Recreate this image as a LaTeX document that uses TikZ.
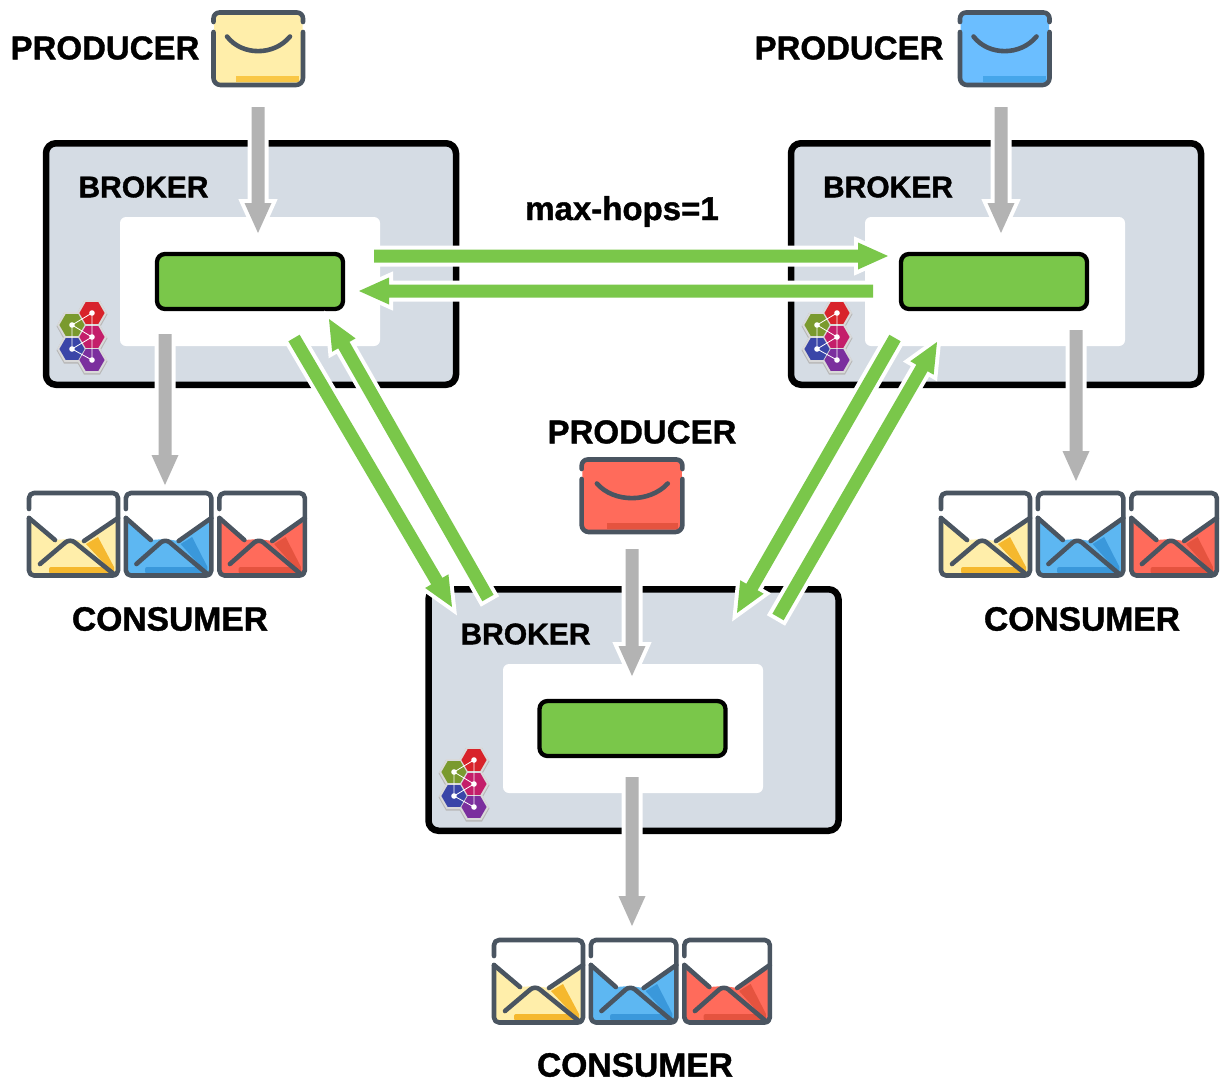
\documentclass[tikz,border=0pt]{standalone}
\usepackage{fontspec}
\setmainfont{Liberation Sans}[BoldFeatures={FakeBold=1.2}]
\usetikzlibrary{calc}
\definecolor{brokerfill}{HTML}{D5DCE4}
\definecolor{gbox}{HTML}{7AC74A}
\definecolor{garrow}{HTML}{B3B3B3}
\definecolor{envline}{HTML}{4A5561}
\definecolor{yel}{HTML}{FFEEAA}\definecolor{yeld}{HTML}{F5B82E}
\definecolor{yelc}{HTML}{F9C746}
\definecolor{blu}{HTML}{5DB7F2}\definecolor{blud}{HTML}{3A98DB}
\definecolor{bluc}{HTML}{6BBEFF}\definecolor{blucd}{HTML}{46A6EA}
\definecolor{rd}{HTML}{FF6B5B}\definecolor{rdd}{HTML}{E5533F}
\definecolor{hxr}{HTML}{D8232A}\definecolor{hxg}{HTML}{7A9A2E}
\definecolor{hxp}{HTML}{C41E6A}\definecolor{hxb}{HTML}{3A45A8}
\definecolor{hxv}{HTML}{7B2F9E}
\tikzset{
  x=1pt,y=-1pt,
  brokerbox/.style={draw=black,line width=6.5pt,fill=brokerfill,rounded corners=10pt,minimum width=410pt,minimum height=241.5pt,inner sep=0pt},
  innerbox/.style={fill=white,rounded corners=6pt,minimum width=260pt,minimum height=129pt,inner sep=0pt},
  queuebox/.style={draw=black,line width=4.3pt,fill=gbox,rounded corners=8pt,minimum width=186pt,minimum height=55pt,inner sep=0pt},
  lblA/.style={font=\fontsize{33}{36}\selectfont\bfseries,inner sep=0pt},
  lblC/.style={font=\fontsize{33.6}{36}\selectfont\bfseries,inner sep=0pt},
  lblB/.style={font=\fontsize{30}{34}\selectfont\bfseries,inner sep=0pt},
  envstroke/.style={draw=envline,line width=4.6pt,line cap=round,line join=round},
}
% block arrow with white halo
\newcommand{\blockarrow}[3]{%
  \coordinate (hb) at ($(#2)!30pt!(#1)$);
  \path[fill=#3,preaction={draw=white,line width=8pt,miter limit=20}]
    ($(#1)!6.5pt!90:(#2)$) -- ($(hb)!6.5pt!-90:(#1)$) -- ($(hb)!13.5pt!-90:(#1)$) -- (#2)
    -- ($(hb)!13.5pt!90:(#1)$) -- ($(hb)!6.5pt!90:(#1)$) -- ($(#1)!6.5pt!-90:(#2)$) -- cycle;
}
% closed envelope: x,y,xscale,fill,dark
\newcommand{\closedenv}[5]{%
  \begin{scope}[shift={(#1,#2)},xscale=#3]
    \fill[#4,rounded corners=4pt] (2,4) rectangle (90.5,74);
    \fill[#5] (24,65) -- (87,65) -- (87,71) -- (24,71) -- cycle;
    \draw[envstroke,rounded corners=6pt] (1.5,11) -- (1.5,1.5) -- (91,1.5) -- (91,11);
    \draw[envstroke,rounded corners=7pt] (1.5,21) -- (1.5,74) -- (91,74) -- (91,21);
    \draw[envstroke] (15,25.5) .. controls (30,45) and (62,45) .. (78,25.5);
  \end{scope}
}
% open envelope: x,y,xscale,fill,dark
\newcommand{\openenv}[5]{%
  \begin{scope}[shift={(#1,#2)},xscale=#3]
    \fill[white,rounded corners=4pt] (3,2) rectangle (92,40);
    \fill[#4,rounded corners=1pt] (3,30) -- (29,49) -- (44,48) -- (58,50) -- (92,30) -- (92,84.5) -- (3,84.5) -- cycle;
    \fill[#5] (60,53) -- (72,46) -- (88,76) -- (88,83) -- cycle;
    \fill[#5,rounded corners=2pt] (23,76) -- (78,76) -- (86,82.5) -- (23,82.5) -- cycle;
    \draw[envstroke,rounded corners=5pt] (3,18) -- (3,2) -- (92,2) -- (92,84.5) -- (3,84.5) -- (3,27);
    \draw[envstroke] (3,27) -- (29,49);
    \draw[envstroke] (92,27) -- (58,50);
    \draw[envstroke,rounded corners=6pt] (14,73) -- (44,47.5) -- (89,84);
  \end{scope}
}
% logo of hexagons, by offset
\newcommand{\hexlogo}[2]{%
  \begin{scope}[shift={(#1,#2)}]
    \foreach \cx/\cy in {92/313,72/325,72/349,92/337,92/360}{
      \fill[black!28] (\cx+15.5,\cy+1.2) -- (\cx+8,\cy-12) -- (\cx-8,\cy-12) -- (\cx-15.5,\cy+1.2) -- (\cx-8,\cy+14.5) -- (\cx+8,\cy+14.5) -- cycle;
    }
    \foreach \cx/\cy in {92/313,72/325,72/349,92/337,92/360}{
      \fill[white!85!black] (\cx+15,\cy) -- (\cx+7.5,\cy-13) -- (\cx-7.5,\cy-13) -- (\cx-15,\cy) -- (\cx-7.5,\cy+13) -- (\cx+7.5,\cy+13) -- cycle;
    }
    \foreach \cx/\cy/\c in {92/313/hxr,72/325/hxg,72/349/hxb,92/337/hxp,92/360/hxv}{
      \fill[\c] (\cx+12.6,\cy) -- (\cx+6.3,\cy-10.9) -- (\cx-6.3,\cy-10.9) -- (\cx-12.6,\cy) -- (\cx-6.3,\cy+10.9) -- (\cx+6.3,\cy+10.9) -- cycle;
    }
    \draw[white,line width=0.8pt] (92,313) -- (92,337) -- (92,360) -- (72,349) -- (72,325) -- (92,313)
      (72,325) -- (92,337) -- (72,349);
    \foreach \cx/\cy in {92/313,72/325,72/349,92/337,92/360}{
      \fill[white] (\cx,\cy) circle (2.8pt);
    }
  \end{scope}
}
\begin{document}
\begin{tikzpicture}
\useasboundingbox (0,0) rectangle (1221,1082);
% brokers
\node[brokerbox] (b1) at (251,264) {};
\node[brokerbox] (b2) at (996,264) {};
\node[brokerbox] (b3) at (633.5,710) {};
\node[innerbox] (i1) at (250,281.5) {};
\node[innerbox] (i2) at (995,281.5) {};
\node[innerbox] (i3) at (633,728.5) {};
\node[queuebox] (q1) at (250,281.5) {};
\node[queuebox] (q2) at (994,281.5) {};
\node[queuebox] (q3) at (632.5,728.5) {};
\hexlogo{0}{0}
\hexlogo{745}{0}
\hexlogo{382}{447}
% labels
\node[lblB] (tb1) at (143.5,187) {BROKER};
\node[lblB] (tb2) at (888,187) {BROKER};
\node[lblB] (tb3) at (525.5,634) {BROKER};
\node[lblA] (tp1) at (105,48) {PRODUCER};
\node[lblA] (tp2) at (849,48) {PRODUCER};
\node[lblA] (tp3) at (642,432) {PRODUCER};
\node[lblC] (tc1) at (170,619) {CONSUMER};
\node[lblC] (tc2) at (1082,619) {CONSUMER};
\node[lblC] (tc3) at (635,1065) {CONSUMER};
\node[lblA,anchor=base] (tm) at (622,220) {max-hops=1};
% arrow ends
\coordinate (a1) at (258,107); \coordinate (a2) at (258,233);
\coordinate (c1) at (1001,107); \coordinate (c2) at (1001,233);
\coordinate (e1) at (632,549); \coordinate (e2) at (632,676);
\coordinate (d1) at (165,334); \coordinate (d2) at (165,485);
\coordinate (f1) at (1076,330); \coordinate (f2) at (1076,481);
\coordinate (g1) at (632,777); \coordinate (g2) at (632,926);
\coordinate (h1) at (374,256); \coordinate (h2) at (888,256);
\coordinate (k1) at (873,291); \coordinate (k2) at (359,291);
\coordinate (l1) at (294,338); \coordinate (l2) at (452,607);
\coordinate (m1) at (488,598); \coordinate (m2) at (329,319);
\coordinate (n1) at (895,338); \coordinate (n2) at (737,613);
\coordinate (o1) at (778,617); \coordinate (o2) at (937,342);
\blockarrow{a1}{a2}{garrow}
\blockarrow{c1}{c2}{garrow}
\blockarrow{e1}{e2}{garrow}
\blockarrow{d1}{d2}{garrow}
\blockarrow{f1}{f2}{garrow}
\blockarrow{g1}{g2}{garrow}
\blockarrow{h1}{h2}{gbox}
\blockarrow{k1}{k2}{gbox}
\blockarrow{l1}{l2}{gbox}
\blockarrow{m1}{m2}{gbox}
\blockarrow{n1}{n2}{gbox}
\blockarrow{o1}{o2}{gbox}
% producers
\closedenv{212}{11}{1}{yel}{yelc}
\closedenv{958.5}{11}{1}{bluc}{blucd}
\closedenv{580}{458}{1.125}{rd}{rdd}
% consumers
\openenv{26}{491}{1}{yel}{yeld}
\openenv{123}{491}{0.96}{blu}{blud}
\openenv{216.5}{491}{0.96}{rd}{rdd}
\openenv{938}{491}{1}{yel}{yeld}
\openenv{1035}{491}{0.96}{blu}{blud}
\openenv{1128.5}{491}{0.96}{rd}{rdd}
\openenv{491}{938}{1}{yel}{yeld}
\openenv{588}{938}{0.96}{blu}{blud}
\openenv{681.5}{938}{0.96}{rd}{rdd}
\end{tikzpicture}
\end{document}
